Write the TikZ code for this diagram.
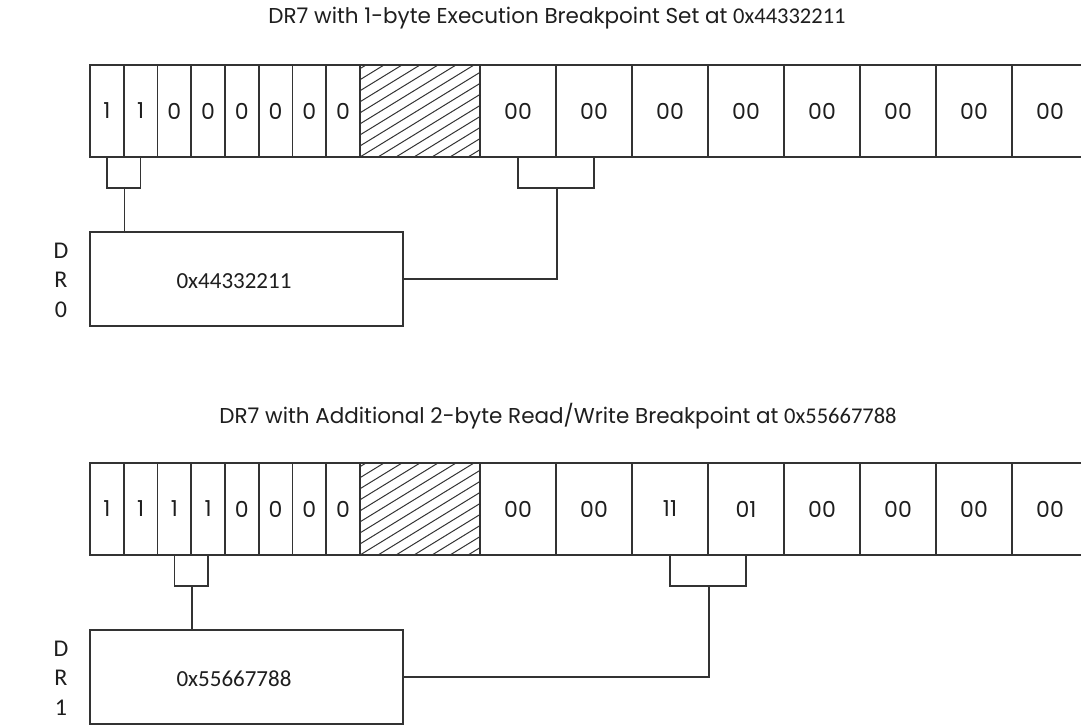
\documentclass[tikz,border=0pt]{standalone}
\usepackage{fontspec}
\setmainfont{Poppins}
\newfontfamily\hexfont{Carlito}
\usetikzlibrary{calc}
\definecolor{linec}{HTML}{333333}
\definecolor{textc}{HTML}{1E1E1E}
\begin{document}
\begin{tikzpicture}[x=1pt,y=-1pt,
  bitcell/.style={draw=linec, line width=1.6pt, minimum width=33.75pt, minimum height=92pt,
    inner sep=0pt, text=textc, font=\fontsize{22}{22}\selectfont},
  bytecell/.style={bitcell, minimum width=76pt},
  hatchbox/.style={minimum width=120pt, minimum height=92pt, inner sep=0pt,
    path picture={
      \foreach \k in {-9,...,7}
        \draw[linec, line width=1pt]
          ($(path picture bounding box.south west)+(\k*18pt,0pt)$) -- ++(150pt,92pt);
    }},
  conn/.style={draw=linec, line width=1.6pt},
  hexbox/.style={draw=linec, line width=1.6pt, minimum width=313pt, minimum height=94pt, inner sep=0pt},
  hextext/.style={text=textc, font=\hexfont\fontsize{23}{23}\selectfont, inner sep=0pt},
  reglabel/.style={text=textc, align=center, inner sep=0pt, font=\hexfont\fontsize{24}{29.5}\selectfont},
  title/.style={text=textc, inner sep=0pt, font=\fontsize{21.5}{21.5}\selectfont}
]
\clip (0,0) rectangle (1081,727);
\fill[white] (0,0) rectangle (1081,727);

% ---------- top register ----------
\node[title] (title0) at (557,18) {DR7 with 1-byte Execution Breakpoint Set at {\hexfont\fontsize{22.5}{22.5}\selectfont 0x44332211}};
\foreach \v [count=\i] in {1,1,0,0,0,0,0,0}
  \node[bitcell] (ta\i) at ({90+33.75*(\i-0.5)},111) {\v};
\node[hatchbox] (th) at (420,111) {};
\draw[conn] (th.north west) -- (th.north east);
\draw[conn] (th.south west) -- (th.south east);
\foreach \v [count=\i] in {00,00,00,00,00,00,00,00}
  \node[bytecell] (tb\i) at ({480+76*(\i-0.5)},111) {\v};

\node[hexbox] (dr0) at (246.5,279) {};
\node[hextext] (dr0t) at (234,281) {0x44332211};
\node[reglabel] (dr0l) at (61,280) {D\\R\\0};

\coordinate (tbr0) at ($(ta1.south east)+(0,30)$);
\draw[conn] (ta1.south) |- (tbr0) -| (ta2.south);
\draw[conn] (tbr0) -- (tbr0 |- dr0.north);
\coordinate (tbr1) at ($(tb1.south east)+(0,30)$);
\draw[conn] (tb1.south) |- (tbr1) -| (tb2.south);
\draw[conn] (tbr1) |- (dr0.east);

% ---------- bottom register ----------
\node[title] (title1) at (558,416) {DR7 with Additional 2-byte Read/Write Breakpoint at {\hexfont\fontsize{22.5}{22.5}\selectfont 0x55667788}};
\foreach \v [count=\i] in {1,1,1,1,0,0,0,0}
  \node[bitcell] (ba\i) at ({90+33.75*(\i-0.5)},509) {\v};
\node[hatchbox] (bh) at (420,509) {};
\draw[conn] (bh.north west) -- (bh.north east);
\draw[conn] (bh.south west) -- (bh.south east);
\foreach \v [count=\i] in {00,00,11,01,00,00,00,00}
  \node[bytecell] (bb\i) at ({480+76*(\i-0.5)},509) {\v};

\node[hexbox] (dr1) at (246.5,677) {};
\node[hextext] (dr1t) at (234,679) {0x55667788};
\node[reglabel] (dr1l) at (61,678) {D\\R\\1};

\coordinate (bbr0) at ($(ba3.south east)+(0,30)$);
\draw[conn] (ba3.south) |- (bbr0) -| (ba4.south);
\draw[conn] (bbr0) -- (bbr0 |- dr1.north);
\coordinate (bbr1) at ($(bb3.south east)+(0,30)$);
\draw[conn] (bb3.south) |- (bbr1) -| (bb4.south);
\draw[conn] (bbr1) |- (dr1.east);
\end{tikzpicture}
\end{document}
